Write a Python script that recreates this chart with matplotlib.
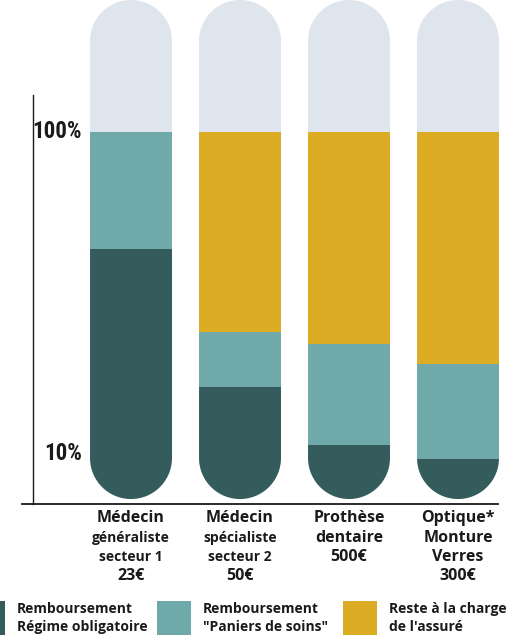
"""Capsule stacked bars: reimbursement shares per health expense."""
import matplotlib.pyplot as plt
import numpy as np
from matplotlib.patches import PathPatch, Rectangle
from matplotlib.path import Path
from matplotlib.transforms import blended_transform_factory

# Data (segment heights in axis %, stacked from the base)
categories = [
    [("Médecin", 11.5), ("généraliste", 10), ("secteur 1", 10), ("23€", 11.5)],
    [("Médecin", 11.5), ("spécialiste", 10), ("secteur 2", 10), ("50€", 11.5)],
    [("Prothèse", 11.5), ("dentaire", 11.5), ("500€", 11.5)],
    [("Optique*", 11.5), ("Monture", 11.5), ("Verres", 11.5), ("300€", 11.5)],
]
base = -2.9
regime = [70.1, 31.4, 15.2, 11.2]
paniers = [32.8, 15.4, 28.3, 26.7]
reste = [0.0, 56.1, 59.4, 65.0]
cap = [37.0, 37.0, 37.0, 37.0]
tick_values = [10, 100]
legend_labels = ["Remboursement\nRégime obligatoire",
                 "Remboursement\n\"Paniers de soins\"",
                 "Reste à la charge\nde l'assuré"]

DARK = "#355c5c"
TEAL = "#6fa9aa"
GOLD = "#dcac24"
GREY = "#dfe5ed"
INK = "#1a1a1a"

W, H = 528, 635
fig = plt.figure(figsize=(W / 100, H / 100), dpi=100)
ax = fig.add_axes([0, 131 / H, 1, 504 / H])
ax.set_xlim(-1.2018, 3.642)
ax.set_ylim(-4.29, 137.0)
ax.axis("off")

bar_w = 0.752
# pixel scale, so the rounded ends come out circular
sx = W / (3.642 + 1.2018)
sy = 504 / (137.0 + 4.29)
ry = bar_w / 2 * sx / sy

for i in range(len(categories)):
    total = regime[i] + paniers[i] + reste[i] + cap[i]
    top = base + total
    t = np.linspace(0, np.pi, 60)
    upper = np.column_stack([i + bar_w / 2 * np.cos(t), top - ry + ry * np.sin(t)])
    lower = np.column_stack([i - bar_w / 2 * np.cos(t), base + ry - ry * np.sin(t)])
    verts = np.vstack([upper, lower, upper[:1]])
    capsule = PathPatch(Path(verts, closed=True), transform=ax.transData,
                        facecolor="none", edgecolor="none")

    bottom = base
    for h, c in zip([regime[i], paniers[i], reste[i], cap[i]],
                    [DARK, TEAL, GOLD, GREY]):
        if h > 0:
            bars = ax.bar(i, h, bottom=bottom, width=bar_w, color=c,
                          linewidth=0)
            for r in bars:
                r.set_clip_path(capsule)
        bottom += h

# axis lines
ax.plot([-1.0, 3.367], [-4.29, -4.29], color=INK, lw=1.3, clip_on=False)
ax.plot([-0.899, -0.899], [-4.29, 110.4], color=INK, lw=1.0, clip_on=False)

for v in tick_values:
    ax.text(-0.45, v, f"{v}%", ha="right", va="center", fontsize=16.5,
            fontweight="bold", fontstretch="condensed", color=INK,
            family=["Roboto Condensed", "Liberation Sans Narrow", "Roboto",
                    "DejaVu Sans"])

# category labels under the bars
lab_tr = blended_transform_factory(ax.transData, fig.transFigure)
line_y = [518, 538, 557, 576]
for i, lines in enumerate(categories):
    for (txt, fs), py in zip(lines, line_y):
        ax.text(i, 1 - py / H, txt, transform=lab_tr, ha="center", va="center",
                fontsize=fs, fontweight="bold", color=INK,
                family=["Open Sans", "DejaVu Sans"])

# legend, drawn by hand (the first swatch runs off the left edge)
for k, (lab, c) in enumerate(zip(legend_labels, [DARK, TEAL, GOLD])):
    x0 = -29 + k * 186
    fig.add_artist(Rectangle((x0 / W, 0), 34 / W, 34 / H, color=c,
                             transform=fig.transFigure, lw=0))
    fig.text((x0 + 46) / W, 1 - 618 / H, lab, ha="left", va="center",
             fontsize=10, fontweight="bold", color=INK, linespacing=1.3,
             family=["Open Sans", "DejaVu Sans"])

fig.savefig("out.png", dpi=100)
